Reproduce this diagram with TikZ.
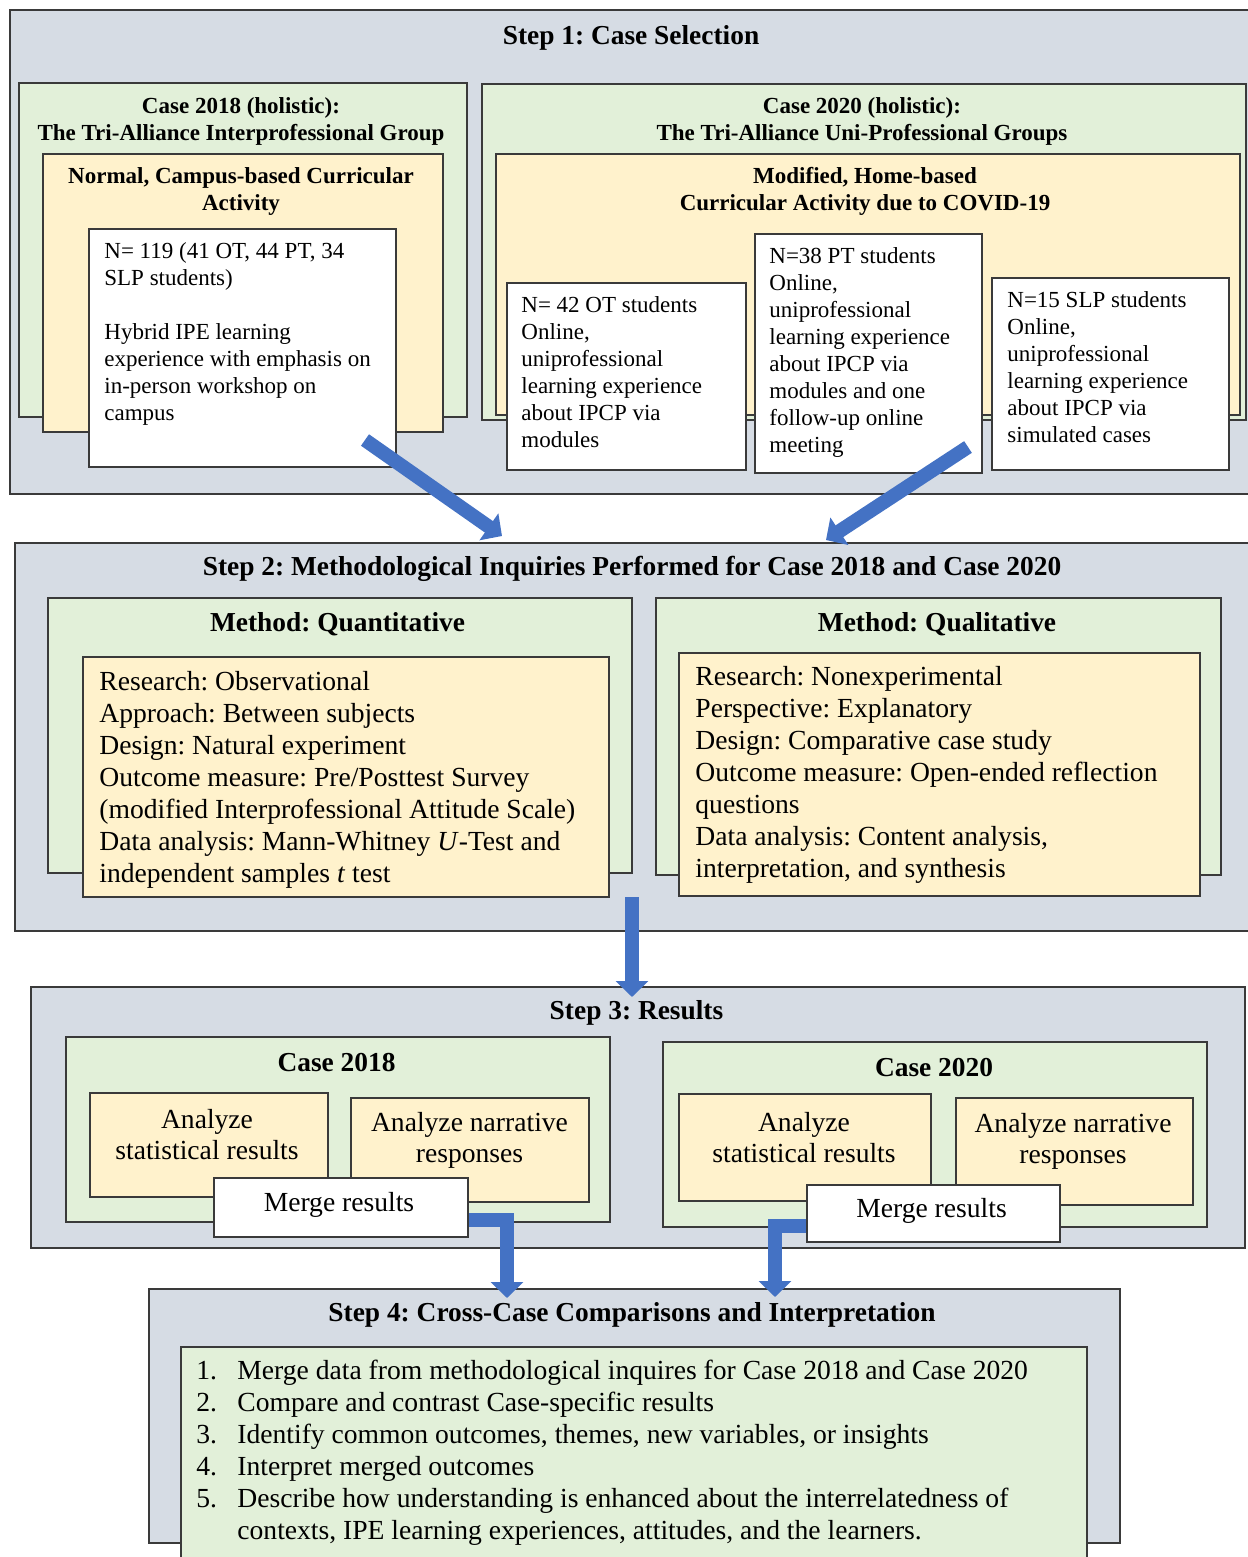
\documentclass[tikz,border=0pt]{standalone}
\usepackage{fontspec}
\setmainfont{Liberation Serif}
\usetikzlibrary{arrows.meta,fit}
\frenchspacing

\definecolor{stepgray}{HTML}{D6DCE4}
\definecolor{casegreen}{HTML}{E2F0D9}
\definecolor{actorange}{HTML}{FFF2CC}
\definecolor{arrowblue}{HTML}{4472C4}
\definecolor{edgegray}{HTML}{3A3A3A}

\tikzset{
  panel/.style={draw=edgegray, line width=0.75pt, inner sep=0pt},
  graybox/.style={panel, fill=stepgray},
  greenbox/.style={panel, fill=casegreen},
  orangebox/.style={panel, fill=actorange},
  whitebox/.style={panel, fill=white},
  steptitle/.style={font=\bfseries\fontsize{13.7}{16}\selectfont, inner sep=0pt, yshift=-1.5pt},
  casetitle/.style={font=\bfseries\fontsize{11.5}{13.5}\selectfont, align=center, inner sep=0pt, yshift=-1.5pt},
  smalltext/.style={font=\fontsize{11.5}{13.5}\selectfont, align=left, inner sep=0pt, anchor=north west, yshift=-1.5pt},
  bigtext/.style={font=\fontsize{13.8}{16}\selectfont, align=left, inner sep=0pt, anchor=north west, yshift=-1.5pt},
  midtext/.style={font=\fontsize{13.8}{15.5}\selectfont, align=center, inner sep=0pt, yshift=-1.5pt},
  blockarrow/.style={draw=arrowblue, line width=7pt, line join=miter,
    -{Triangle[width=16pt,length=8pt]}}
}

\begin{document}
\begin{tikzpicture}[x=0.5pt,y=-0.5pt]
    \useasboundingbox (0,0) rectangle (1247,1557);

    \node[graybox, fit={(10,10) (1252,494)}] (s1) {};
    \node[steptitle] (s1t) at (631,35) {Step 1: Case Selection};

    \node[greenbox, fit={(19,83) (467,417)}] (c18) {};
    \node[casetitle] (c18t) at (241,118.5) {Case 2018 (holistic):\\The Tri-Alliance Interprofessional Group};
    \node[orangebox, fit={(43,154) (443,432)}] (o18) {};
    \node[casetitle] (o18t) at (241,188.5) {Normal, Campus-based Curricular\\Activity};
    \node[whitebox, fit={(89,229) (396,467)}] (w18) {};
    \node[smalltext] (w18t) at (104,239) {N= 119 (41 OT, 44 PT, 34\\SLP students)\\[13.5pt]Hybrid IPE learning\\experience with emphasis on\\in-person workshop on\\campus};

    \node[greenbox, fit={(482,84) (1246,420)}] (c20) {};
    \node[casetitle] (c20t) at (862,118.5) {Case 2020 (holistic):\\The Tri-Alliance Uni-Professional Groups};
    \node[orangebox, fit={(496,154) (1240,415)}] (o20) {};
    \node[casetitle] (o20t) at (865,188.5) {Modified, Home-based\\Curricular Activity due to COVID-19};
    \node[whitebox, fit={(507,283) (746,470)}] (wot) {};
    \node[smalltext] (wott) at (521,293) {N= 42 OT students\\Online,\\uniprofessional\\learning experience\\about IPCP via\\modules};
    \node[whitebox, fit={(755,234) (982,473)}] (wpt) {};
    \node[smalltext] (wptt) at (769,244) {N=38 PT students\\Online,\\uniprofessional\\learning experience\\about IPCP via\\modules and one\\follow-up online\\meeting};
    \node[whitebox, fit={(992,278) (1229,470)}] (wslp) {};
    \node[smalltext] (wslpt) at (1007,288) {N=15 SLP students\\Online,\\uniprofessional\\learning experience\\about IPCP via\\simulated cases};

    \node[graybox, fit={(15,543) (1252,931)}] (s2) {};
    \node[steptitle] (s2t) at (632,566) {Step 2: Methodological Inquiries Performed for Case 2018 and Case 2020};
    \node[greenbox, fit={(48,598) (632,873)}] (quan) {};
    \node[steptitle] (quant) at (337.5,621) {Method: Quantitative};
    \node[orangebox, fit={(83,657) (609,897)}] (quanbox) {};
    \node[bigtext] (quantext) at (99,668) {Research: Observational\\Approach: Between subjects\\Design: Natural experiment\\Outcome measure: Pre/Posttest Survey\\(modified Interprofessional Attitude Scale)\\Data analysis: Mann-Whitney \textit{U}-Test and\\independent samples \textit{t} test};
    \node[greenbox, fit={(656,598) (1221,875)}] (qual) {};
    \node[steptitle] (qualt) at (937,621) {Method: Qualitative};
    \node[orangebox, fit={(679,653) (1200,896)}] (qualbox) {};
    \node[bigtext] (qualtext) at (695,663) {Research: Nonexperimental\\Perspective: Explanatory\\Design: Comparative case study\\Outcome measure: Open-ended reflection\\questions\\Data analysis: Content analysis,\\interpretation, and synthesis};

    \node[graybox, fit={(31,987) (1245,1248)}] (s3) {};
    \node[steptitle] (s3t) at (636.5,1010) {Step 3: Results};
    \node[greenbox, fit={(66,1037) (610,1222)}] (r18) {};
    \node[steptitle] (r18t) at (336.5,1060) {Case 2018};
    \node[orangebox, fit={(90,1093) (328,1197)}] (stat18) {};
    \node[midtext] (stat18t) at (207,1132) {Analyze\\statistical results};
    \node[orangebox, fit={(351,1098) (589,1202)}] (narr18) {};
    \node[midtext] (narr18t) at (469.5,1137.5) {Analyze narrative\\responses};
    \node[whitebox, fit={(214,1178) (468,1237)}] (m18) {};
    \node[midtext] (m18t) at (339,1202) {Merge results};

    \node[greenbox, fit={(663,1042) (1207,1227)}] (r20) {};
    \node[steptitle] (r20t) at (934,1065) {Case 2020};
    \node[orangebox, fit={(679,1094) (931,1201)}] (stat20) {};
    \node[midtext] (stat20t) at (804,1134.5) {Analyze\\statistical results};
    \node[orangebox, fit={(956,1098) (1193,1205)}] (narr20) {};
    \node[midtext] (narr20t) at (1073,1138) {Analyze narrative\\responses};
    \node[whitebox, fit={(807,1185) (1060,1242)}] (m20) {};
    \node[midtext] (m20t) at (931.5,1208) {Merge results};

    \node[graybox, fit={(149,1289) (1120,1543)}] (s4) {};
    \node[steptitle] (s4t) at (632,1312) {Step 4: Cross-Case Comparisons and Interpretation};
    \node[greenbox, fit={(181,1347) (1087,1570)}] (steps) {};
    \node[bigtext] (stepst) at (196,1354) {\begin{tabular}{@{}p{20.5pt}@{}l@{}}
      1. & Merge data from methodological inquires for Case 2018 and Case 2020\\
      2. & Compare and contrast Case-specific results\\
      3. & Identify common outcomes, themes, new variables, or insights\\
      4. & Interpret merged outcomes\\
      5. & Describe how understanding is enhanced about the interrelatedness of\\
         & contexts, IPE learning experiences, attitudes, and the learners.
    \end{tabular}};

    \coordinate (a1from) at (365,440);
    \coordinate (a1to) at (502,536);
    \coordinate (a2from) at (968,447);
    \coordinate (a2to) at (826,540);
    \coordinate (a3from) at (632,897);
    \coordinate (a3to) at (632,997);
    \coordinate (e1to) at (507,1298);
    \coordinate (e2to) at (775,1297);

    \draw[blockarrow] (a1from) -- (a1to);
    \draw[blockarrow] (a2from) -- (a2to);
    \draw[blockarrow] (a3from) -- (a3to);
    \draw[blockarrow] ([yshift=-6pt]m18.east) -| (e1to);
    \draw[blockarrow] ([yshift=-6pt]m20.west) -| (e2to);
\end{tikzpicture}
\end{document}
